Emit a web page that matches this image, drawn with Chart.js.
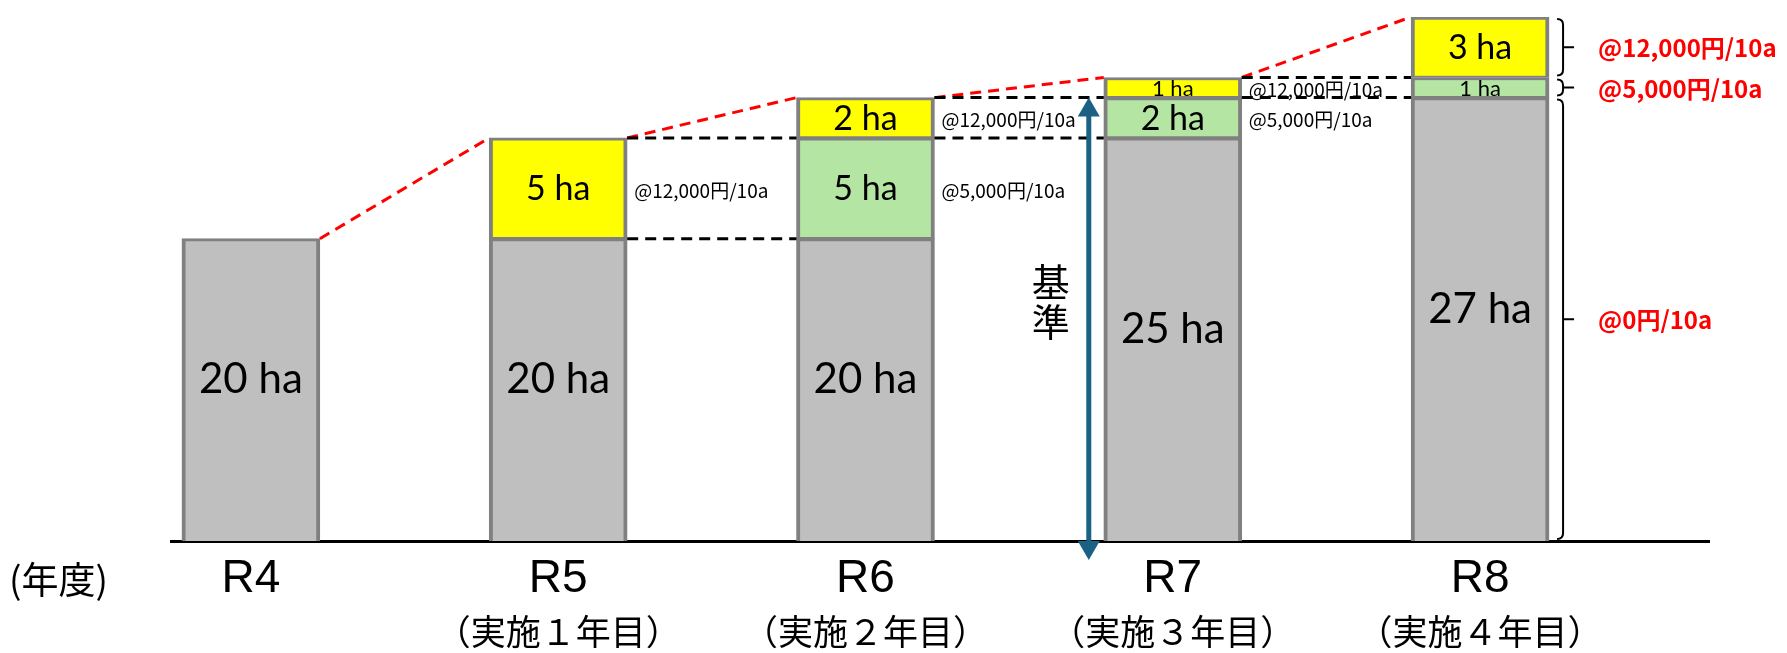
<!DOCTYPE html>
<html lang="ja">
<head>
<meta charset="utf-8">
<script src="https://cdn.jsdelivr.net/npm/chart.js@4.4.1/dist/chart.umd.min.js"></script>
<style>
  html, body { margin: 0; padding: 0; background: #fff; }
  #wrap { width: 1787px; height: 653px; }
</style>
</head>
<body>
<div id="wrap"><canvas id="myChart"></canvas></div>
<script>
// years on the x axis
const years = ['R4', 'R5', 'R6', 'R7', 'R8'];
const phases = ['', '（実施１年目）', '（実施２年目）', '（実施３年目）', '（実施４年目）'];

// area (ha), stacked from the bottom
const baseArea = [20, 20, 20, 25, 27];   // gray
const area5000 = [0, 0, 5, 2, 1];         // green
const area12000 = [0, 5, 2, 1, 3];        // yellow

// unit price for gray / green / yellow
const rateLabels = ['@0円/10a', '@5,000円/10a', '@12,000円/10a'];
const unitLabel = '(年度)';
const baseLabel = ['基', '準'];

const JP = '"Noto Sans CJK JP", sans-serif';

function toPoints(arr) {
    return arr.map((v, i) => ({ x: i, y: v > 0 ? v : null }));
}

function dashLine(ctx, x1, y1, x2, y2) {
    ctx.beginPath();
    ctx.moveTo(x1, y1);
    ctx.lineTo(x2, y2);
    ctx.stroke();
}

function brace(ctx, x, top, bottom) {
    const mid = (top + bottom) / 2;
    const r = 6;
    ctx.beginPath();
    ctx.moveTo(x - r, top);
    ctx.quadraticCurveTo(x, top, x, top + r);
    ctx.lineTo(x, bottom - r);
    ctx.quadraticCurveTo(x, bottom, x - r, bottom);
    ctx.moveTo(x, mid);
    ctx.lineTo(x + 11, mid);
    ctx.stroke();
}

const overlay = {
    id: 'overlay',
    afterDatasetsDraw(chart) {
        const ctx = chart.ctx;
        const xs = chart.scales.x;
        const ys = chart.scales.y;
        const bars = chart.getDatasetMeta(0).data;
        const left = i => bars[i].x - bars[i].width / 2;
        const right = i => bars[i].x + bars[i].width / 2;
        const total = i => baseArea[i] + area5000[i] + area12000[i];
        const py = v => ys.getPixelForValue(v);
        const n = years.length;

        ctx.save();

        // ha labels inside the segments
        ctx.fillStyle = '#000';
        ctx.textAlign = 'center';
        ctx.textBaseline = 'middle';
        for (let i = 0; i < n; i++) {
            const segs = [
                [0, baseArea[i]],
                [baseArea[i], baseArea[i] + area5000[i]],
                [baseArea[i] + area5000[i], total(i)]
            ];
            segs.forEach((s, k) => {
                const v = s[1] - s[0];
                if (v <= 0) return;
                const y1 = py(Math.max(s[0], ys.min));
                const y2 = py(s[1]);
                const h = y1 - y2;
                const size = k === 0 ? 42 : Math.min(34, Math.max(22, h - 2));
                const yc = k === 0 ? (y1 + y2) / 2 - 10 : (y1 + y2) / 2 + 1;
                ctx.font = size + 'px Lato, "Open Sans", sans-serif';
                ctx.fillText(v + ' ha', bars[i].x, yc);
            });
        }

        // red dashed line over the bar tops
        ctx.setLineDash([11, 7]);
        ctx.lineWidth = 3;
        ctx.strokeStyle = '#ff0000';
        for (let i = 0; i < n - 1; i++) {
            dashLine(ctx, right(i), py(total(i)), left(i + 1), py(total(i + 1)));
        }

        // black dashed lines carrying last year's levels
        ctx.strokeStyle = '#000';
        for (let i = 1; i < n - 1; i++) {
            [baseArea[i + 1], baseArea[i + 1] + area5000[i + 1]].forEach(v => {
                dashLine(ctx, right(i), py(v), left(i + 1), py(v));
            });
        }
        ctx.setLineDash([]);

        // rate labels next to each year's new segments
        ctx.font = '19px ' + JP;
        ctx.textAlign = 'left';
        for (let i = 1; i < n - 1; i++) {
            if (area12000[i] > 0) {
                const m = (py(baseArea[i] + area5000[i]) + py(total(i))) / 2;
                ctx.fillText(rateLabels[2], right(i) + 7, m + 2);
            }
            if (area5000[i] > 0) {
                const m = (py(baseArea[i]) + py(baseArea[i] + area5000[i])) / 2;
                ctx.fillText(rateLabels[1], right(i) + 7, m + 2);
            }
        }

        // braces and red rate labels for the last year
        const last = n - 1;
        const bx = right(last) + 14;
        const levels = [ys.min, baseArea[last], baseArea[last] + area5000[last], total(last)];
        ctx.lineWidth = 2;
        ctx.strokeStyle = '#000';
        ctx.fillStyle = '#ff0000';
        ctx.font = 'bold 24px ' + JP;
        for (let k = 0; k < 3; k++) {
            const top = py(levels[k + 1]) + 2;
            const bottom = py(levels[k]) - 2;
            brace(ctx, bx, top, bottom);
            ctx.fillText(rateLabels[k], bx + 35, (top + bottom) / 2 + 1);
        }

        // 基準 arrow between R6 and R7
        const ax = left(3) - 15;
        const aTop = py(baseArea[3] + area5000[3]);
        const aBot = chart.chartArea.bottom + 19;
        ctx.strokeStyle = '#1b6184';
        ctx.fillStyle = '#1b6184';
        ctx.lineWidth = 5;
        dashLine(ctx, ax, aTop + 14, ax, aBot - 14);
        ctx.beginPath();
        ctx.moveTo(ax, aTop);
        ctx.lineTo(ax - 11, aTop + 19);
        ctx.lineTo(ax + 11, aTop + 19);
        ctx.closePath();
        ctx.fill();
        ctx.beginPath();
        ctx.moveTo(ax, aBot);
        ctx.lineTo(ax - 11, aBot - 19);
        ctx.lineTo(ax + 11, aBot - 19);
        ctx.closePath();
        ctx.fill();

        ctx.fillStyle = '#000';
        ctx.textAlign = 'center';
        ctx.font = '38px ' + JP;
        ctx.fillText(baseLabel[0], ax - 38, 282);
        ctx.fillText(baseLabel[1], ax - 38, 322);

        // second line of the year labels and the unit label
        ctx.font = '35px ' + JP;
        const subY = xs.top + 91;
        years.forEach((_, i) => {
            if (phases[i]) ctx.fillText(phases[i], xs.getPixelForValue(i), subY);
        });
        ctx.textAlign = 'left';
        ctx.font = '37px ' + JP;
        ctx.fillText(unitLabel, chart.chartArea.left - 162, xs.top + 39);

        ctx.restore();
    }
};

new Chart(document.getElementById('myChart'), {
    type: 'bar',
    data: {
        datasets: [
            { label: rateLabels[0], data: toPoints(baseArea), backgroundColor: '#bfbfbf' },
            { label: rateLabels[1], data: toPoints(area5000), backgroundColor: '#b5e5a3' },
            { label: rateLabels[2], data: toPoints(area12000), backgroundColor: '#ffff00' }
        ]
    },
    options: {
        responsive: true,
        maintainAspectRatio: false,
        animation: false,
        layout: { padding: { top: 17, left: 171, right: 78, bottom: 0 } },
        datasets: {
            bar: {
                barThickness: 138,
                borderColor: '#808080',
                borderWidth: { top: 3, bottom: 2, left: 4, right: 4 },
                borderSkipped: false
            }
        },
        plugins: {
            legend: { display: false },
            tooltip: { enabled: false }
        },
        scales: {
            x: {
                type: 'linear',
                min: -0.26,
                max: 4.745,
                offset: false,
                stacked: true,
                grid: { display: false, drawTicks: false },
                border: { display: true, color: '#000', width: 3 },
                afterBuildTicks: s => { s.ticks = years.map((_, i) => ({ value: i })); },
                afterFit: s => { s.height = 112; },
                ticks: {
                    callback: v => years[v],
                    autoSkip: false,
                    maxRotation: 0,
                    padding: 11,
                    color: '#000',
                    font: { family: '"Liberation Sans", Arial, sans-serif', size: 46 }
                }
            },
            y: {
                stacked: true,
                min: 5,
                max: 31,
                display: false
            }
        }
    },
    plugins: [overlay]
});
</script>
</body>
</html>
